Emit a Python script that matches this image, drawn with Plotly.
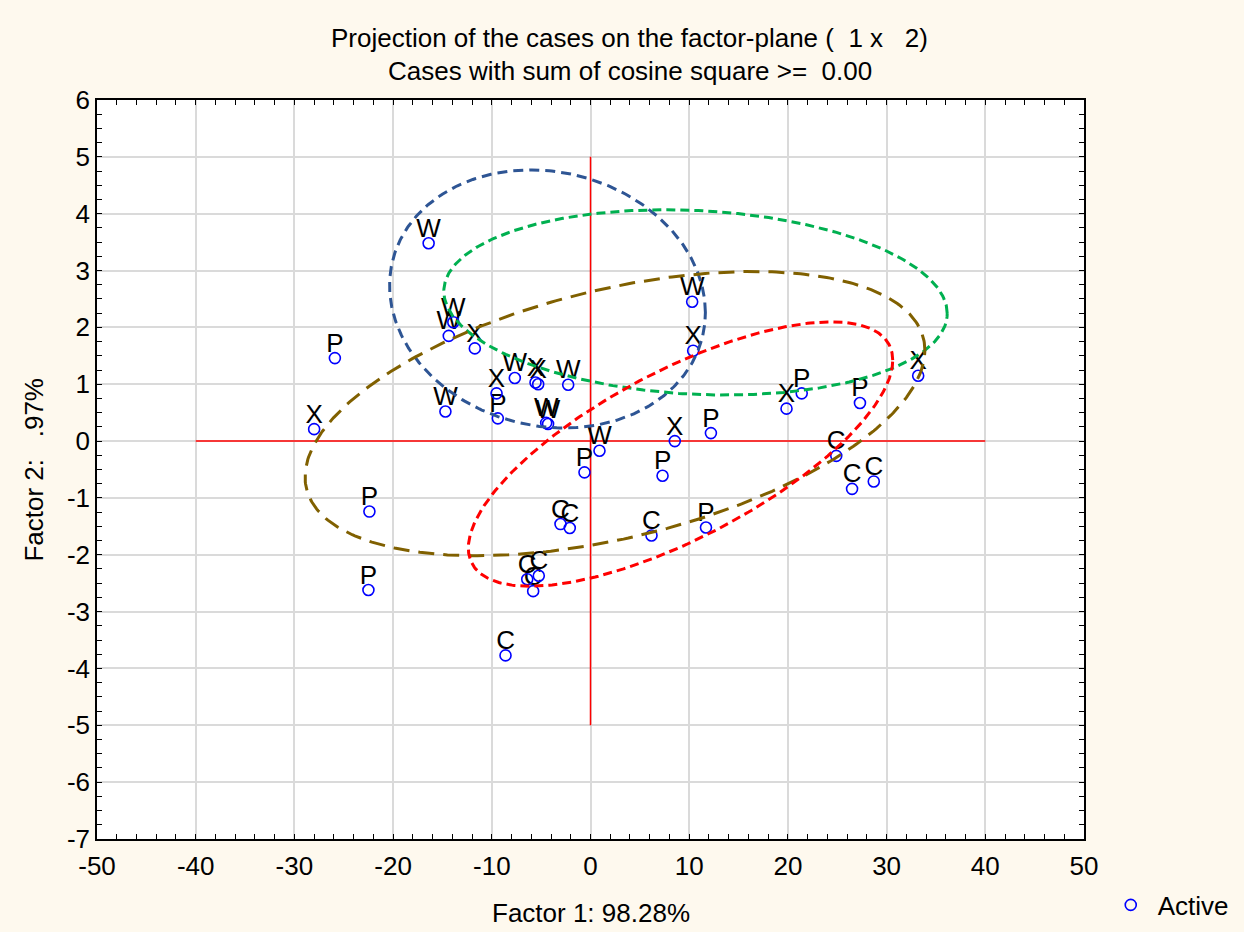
import numpy as np
import plotly.graph_objects as go

# ---- data ----
labels = (["W"] * 10) + (["X"] * 9) + (["P"] * 10) + (["C"] * 10)
factor1 = [-16.4, -13.9, -14.36, -14.7, -7.67, -2.26, -4.49, -4.3, 0.91, 10.3,
           -11.72, -28.0, -9.52, -5.57, -5.3, 10.4, 19.86, 33.2, 8.54,
           -25.9, -9.39, 21.4, 27.3, -0.61, 12.2, 7.3, 11.7, -22.4, -22.5,
           24.9, 26.5, 28.7, 6.18, -3.04, -2.1, -6.41, -5.24, -5.81, -8.61]
factor2 = [3.48, 2.09, 1.85, 0.52, 1.11, 0.99, 0.32, 0.30, -0.17, 2.45,
           1.63, 0.21, 0.84, 1.03, 1.00, 1.59, 0.57, 1.15, 0.0,
           1.46, 0.40, 0.84, 0.67, -0.55, 0.14, -0.61, -1.52, -1.24, -2.62,
           -0.26, -0.84, -0.71, -1.66, -1.46, -1.53, -2.43, -2.37, -2.64, -3.77]

# ellipses: centre, half x-extent, half y-extent, skew (sin of phase)
ell_names = ["W", "X", "P", "C"]
ell_cx = [-4.36, 10.64, 2.48, 9.12]
ell_cy = [2.50, 2.44, 0.483, -0.228]
ell_rx = [16.0, 25.5, 31.4, 21.5]
ell_ry = [2.27, 1.63, 2.50, 2.325]
ell_skew = [-0.105, -0.12, 0.445, 0.71]
ell_colors = ["#2E5594", "#00B050", "#806000", "#FF0000"]
ell_dash = ["10px,6px", "9px,5px", "16px,9px", "9px,5px"]

cross_x = [-40, 40]
cross_y = [-5, 5]

x_ticks = [-50, -40, -30, -20, -10, 0, 10, 20, 30, 40, 50]
x_ticktext = ["-50", "-40", "-30", "-20", "-10", "0", "10", "20", "30", "40", "50"]
y_ticks = [-7, -6, -5, -4, -3, -2, -1, 0, 1, 2, 3, 4, 5, 6]
y_ticktext = ["-7", "-6", "-5", "-4", "-3", "-2", "-1", "0", "1", "2", "3", "4", "5", "6"]

FONT = "Arial, Liberation Sans, sans-serif"
FS = 26
NB = "\u00a0"

fig = go.Figure()

# crosshair
fig.add_trace(go.Scatter(x=cross_x, y=[0, 0], mode="lines",
                         line=dict(color="#FF0000", width=1.5),
                         showlegend=False, hoverinfo="skip"))
fig.add_trace(go.Scatter(x=[0, 0], y=cross_y, mode="lines",
                         line=dict(color="#FF0000", width=1.5),
                         showlegend=False, hoverinfo="skip"))

# point labels
fig.add_trace(go.Scatter(x=factor1, y=factor2, mode="text", text=labels,
                         textposition="top center",
                         marker=dict(size=1),
                         textfont=dict(family=FONT, size=FS, color="black"),
                         showlegend=False, hoverinfo="skip"))
# points
fig.add_trace(go.Scatter(x=factor1, y=factor2, mode="markers",
                         marker=dict(symbol="circle-open", size=11,
                                     color="#0000FF", line=dict(color="#0000FF", width=1.6)),
                         name="Active", showlegend=True))

# ellipses
t = np.linspace(0, 2 * np.pi, 400)
for cx, cy, rx, ry, s, col, d in zip(ell_cx, ell_cy, ell_rx, ell_ry, ell_skew, ell_colors, ell_dash):
    phi = np.arcsin(s)
    ex = cx + rx * np.cos(t)
    ey = cy + ry * np.sin(t + phi)
    fig.add_trace(go.Scatter(x=ex, y=ey, mode="lines",
                             line=dict(color=col, width=3, dash=d),
                             showlegend=False, hoverinfo="skip"))

axis_common = dict(showline=True, linecolor="black", linewidth=1.5, mirror="allticks",
                   ticks="inside", ticklen=5, tickwidth=1.2, tickcolor="black",
                   showgrid=True, gridcolor="#DADADA", gridwidth=2, zeroline=False,
                   automargin=False,
                   tickfont=dict(family=FONT, size=FS, color="black"))

fig.update_layout(
    width=1244, height=932,
    margin=dict(l=97, r=160, t=100, b=93, autoexpand=False),
    paper_bgcolor="#FEF9EE", plot_bgcolor="white",
    font=dict(family=FONT, size=FS, color="black"),
    xaxis=dict(range=[-50, 50], tickmode="array", tickvals=x_ticks, ticktext=x_ticktext,
               ticklabelstandoff=3,
               minor=dict(dtick=2, tick0=0, ticks="inside", ticklen=5, tickcolor="black", showgrid=False),
               **axis_common),
    yaxis=dict(range=[-7, 6], tickmode="array", tickvals=y_ticks, ticktext=y_ticktext,
               minor=dict(dtick=0.25, tick0=0, ticks="inside", ticklen=5, tickcolor="black", showgrid=False),
               **axis_common),
    legend=dict(x=1.02, y=-0.0893, xanchor="left", yanchor="middle", itemwidth=44,
                bgcolor="rgba(0,0,0,0)", font=dict(family=FONT, size=FS)),
    annotations=[
        dict(text="Projection of the cases on the factor-plane (" + NB * 2 + "1 x" + NB * 3 + "2)",
             x=0.54, y=1.0839, xref="paper", yref="paper", xanchor="center", yanchor="middle",
             showarrow=False, font=dict(family=FONT, size=FS)),
        dict(text="Cases with sum of cosine square >=" + NB * 2 + "0.00",
             x=0.54, y=1.0392, xref="paper", yref="paper", xanchor="center", yanchor="middle",
             showarrow=False, font=dict(family=FONT, size=FS)),
        dict(text="Factor 1: 98.28%", x=0.5, y=-0.1, xref="paper", yref="paper",
             xanchor="center", yanchor="middle", showarrow=False, font=dict(family=FONT, size=FS)),
        dict(text="Factor 2:" + NB * 3 + ".97%", x=-0.0648, y=0.5, xref="paper", yref="paper",
             xanchor="center", yanchor="middle", textangle=-90, showarrow=False,
             font=dict(family=FONT, size=FS)),
    ],
)

fig.write_html("out.html")
